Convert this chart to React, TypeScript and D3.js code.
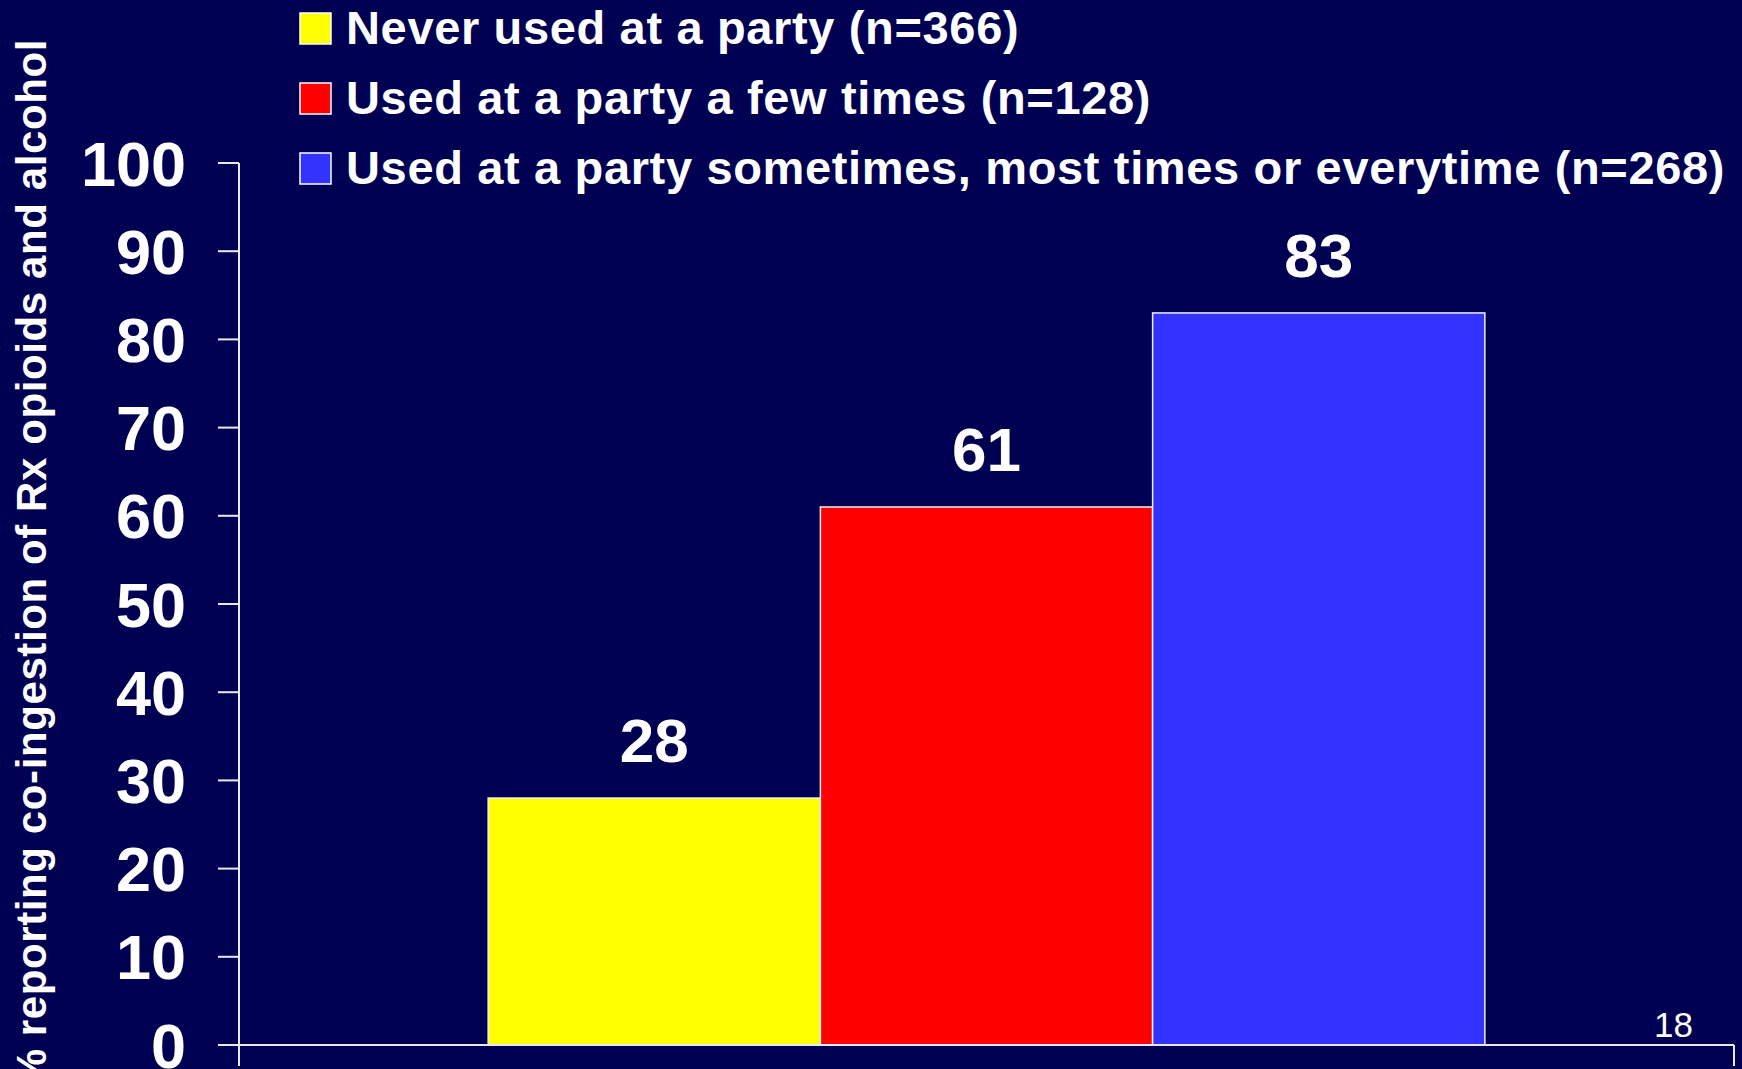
import React, { useEffect } from 'react';
import * as d3 from 'd3';

const seriesNames = [
  'Never used at a party (n=366)',
  'Used at a party a few times (n=128)',
  'Used at a party sometimes, most times or everytime (n=268)',
];
const seriesValues = [28, 61, 83];
const seriesColors = ['#ffff00', '#ff0000', '#3333ff'];
const yTicks = [0, 10, 20, 30, 40, 50, 60, 70, 80, 90, 100];
const yTitle = '% reporting co-ingestion of Rx opioids and alcohol';
const slideNumber = '18';

const W = 1742;
const H = 1069;
const BG = '#000052';
const FONT = '"Liberation Sans", Arial, Helvetica, sans-serif';

const App: React.FC = () => {
  useEffect(() => {
    document.body.style.margin = '0';
    document.body.style.background = BG;
  }, []);

  const plot = { left: 239, right: 1734, top: 163, bottom: 1045 };

  const y = d3.scaleLinear().domain([0, 100]).range([plot.bottom, plot.top]);
  // one category group, excel-like gap width
  const group = d3.scaleBand().domain(['all']).range([plot.left, plot.right]).padding(0.2);
  const x = d3
    .scaleBand()
    .domain(seriesNames)
    .range([group('all')!, group('all')! + group.bandwidth()])
    .padding(0);

  const axisColor = '#e8e8f0';

  return (
    <svg width={W} height={H} style={{ display: 'block', background: BG }} fontFamily={FONT}>
      <rect x={0} y={0} width={W} height={H} fill={BG} />

      {/* y axis title */}
      <text
        transform={`translate(46, 39) rotate(-90)`}
        textAnchor="end"
        fill="#fff"
        fontWeight="bold"
        fontSize={42}
        letterSpacing={0.6}
      >
        {yTitle}
      </text>

      {/* legend */}
      {seriesNames.map((name, i) => {
        const base = 44 + i * 70;
        return (
          <g key={name}>
            <rect x={300} y={base - 31} width={31} height={31} fill={seriesColors[i]} stroke="#fff" strokeWidth={1.5} />
            <text x={346} y={base} fill="#fff" fontWeight="bold" fontSize={47} letterSpacing={0.65}>
              {name}
            </text>
          </g>
        );
      })}

      {/* bars */}
      {seriesNames.map((name, i) => (
        <g key={'bar' + i}>
          <rect
            x={x(name)!}
            y={y(seriesValues[i])}
            width={x.bandwidth()}
            height={y(0) - y(seriesValues[i])}
            fill={seriesColors[i]}
            stroke="#f0f0f0"
            strokeWidth={1.5}
          />
          <text
            x={x(name)! + x.bandwidth() / 2}
            y={y(seriesValues[i]) - 36}
            textAnchor="middle"
            fill="#fff"
            fontWeight="bold"
            fontSize={62}
          >
            {seriesValues[i]}
          </text>
        </g>
      ))}

      {/* y axis */}
      <line x1={plot.left} x2={plot.left} y1={y(100)} y2={plot.bottom + 21} stroke={axisColor} strokeWidth={2} />
      {yTicks.map((t) => (
        <g key={t}>
          <line x1={plot.left - 21} x2={plot.left} y1={y(t)} y2={y(t)} stroke={axisColor} strokeWidth={2} />
          <text
            x={186}
            y={y(t)}
            dy="0.36em"
            textAnchor="end"
            fill="#fff"
            fontWeight="bold"
            fontSize={63}
          >
            {t}
          </text>
        </g>
      ))}

      {/* x axis */}
      <line x1={plot.left - 21} x2={plot.right} y1={plot.bottom} y2={plot.bottom} stroke={axisColor} strokeWidth={2} />
      <line x1={plot.right} x2={plot.right} y1={plot.bottom} y2={plot.bottom + 21} stroke={axisColor} strokeWidth={2} />

      {/* slide number */}
      <text x={1693} y={1037} textAnchor="end" fill="#fff" fontSize={35}>
        {slideNumber}
      </text>
    </svg>
  );
};

export default App;
